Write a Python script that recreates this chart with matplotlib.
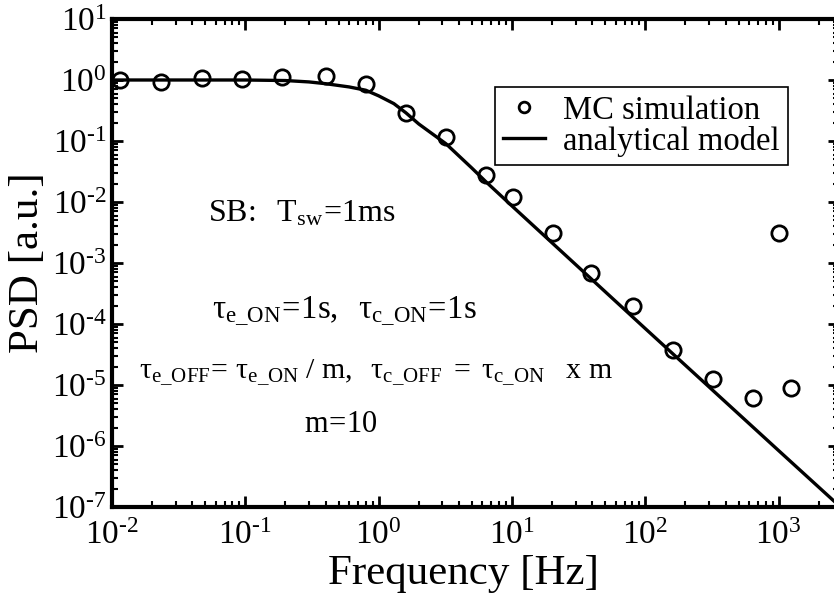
import matplotlib
matplotlib.use('Agg')
import matplotlib.pyplot as plt
import numpy as np
from matplotlib.ticker import LogLocator, NullFormatter, FuncFormatter

# MC simulation points
freq_mc = [0.0115, 0.0235, 0.047, 0.094, 0.19, 0.40, 0.81, 1.6, 3.2, 6.4,
           10.1, 20.2, 39.3, 81, 161, 323, 638, 1000, 1234]
psd_mc = [1.0, 0.92, 1.07, 1.03, 1.13, 1.17, 0.86, 0.284, 0.117, 0.0277,
          0.0122, 3.07e-3, 6.8e-4, 2.0e-4, 3.75e-5, 1.24e-5, 6.2e-6, 3.07e-3, 9.0e-6]

# analytical model curve
freq_model = [0.01, 0.1, 0.2, 0.3, 0.4, 0.6, 0.8, 1.0, 1.3, 1.6, 2.0, 3.2,
              5.0, 6.3, 10, 100, 1000, 3000]
psd_model = [1.0, 1.0, 0.98, 0.93, 0.87, 0.77, 0.68, 0.55, 0.41, 0.29, 0.19, 0.09,
             0.036, 0.022, 8.6e-3, 8.4e-5, 8.4e-7, 9.4e-8]

plt.rcParams['font.family'] = ['Liberation Serif', 'DejaVu Serif']
plt.rcParams['mathtext.fontset'] = 'custom'
plt.rcParams['mathtext.rm'] = 'Liberation Serif'
plt.rcParams['mathtext.it'] = 'Liberation Serif:italic'
plt.rcParams['mathtext.bf'] = 'Liberation Serif:bold'

fig = plt.figure(figsize=(8.34, 5.95), dpi=100)
ax = fig.add_axes([112 / 834, 1 - 507 / 595, 727 / 834, 488 / 595])

ax.plot(freq_mc, psd_mc, 'o', ms=11, mfc='none', mec='black', mew=2,
        label='MC simulation')
ax.plot(freq_model, psd_model, '-', color='black', lw=2.4,
        label='analytical model')

ax.set_xscale('log')
ax.set_yscale('log')
ax.set_xlim(1e-2, 2835)
ax.set_ylim(1e-7, 1e1)


def dec_label(v, pos):
    e = int(round(np.log10(v)))
    if e < 0:
        return r'$\mathdefault{10^{\text{-}%d}}$' % (-e)
    return r'$\mathdefault{10^{%d}}$' % e


ax.xaxis.set_major_locator(LogLocator(base=10, numticks=20))
ax.yaxis.set_major_locator(LogLocator(base=10, numticks=20))
ax.xaxis.set_minor_locator(LogLocator(base=10, subs=range(2, 10), numticks=100))
ax.yaxis.set_minor_locator(LogLocator(base=10, subs=range(2, 10), numticks=100))
ax.xaxis.set_major_formatter(FuncFormatter(dec_label))
ax.yaxis.set_major_formatter(FuncFormatter(dec_label))
ax.xaxis.set_minor_formatter(NullFormatter())
ax.yaxis.set_minor_formatter(NullFormatter())

for s in ax.spines.values():
    s.set_linewidth(3)
ax.tick_params(which='both', direction='in', top=True, right=True)
ax.tick_params(which='major', length=8, width=2, labelsize=24)
ax.tick_params(which='minor', length=4.5, width=1.5)
ax.tick_params(axis='x', which='major', pad=10)
ax.tick_params(axis='y', which='major', pad=4)

ax.set_xlabel('Frequency [Hz]', fontsize=31)
ax.set_ylabel('PSD [a.u.]', fontsize=31)
ax.xaxis.set_label_coords((463 - 112) / 727, -0.098)
ax.yaxis.set_label_coords(-0.089, 0.5)

leg = ax.legend(loc='upper right', bbox_to_anchor=((788 - 112) / 727, (507 - 87) / 488),
                borderaxespad=0, fontsize=23.5, frameon=True, fancybox=False,
                edgecolor='black', framealpha=1, markerscale=0.7,
                handlelength=1.3, handletextpad=0.55, labelspacing=0.0,
                borderpad=0.25)
leg.get_frame().set_linewidth(1.2)

tf = ax.transAxes
ax.text(0.132, 0.585, r'$\mathrm{SB\!:\ \ T_{sw}\!=\!1ms}$', transform=tf,
        fontsize=23, ha='left', va='baseline')
ax.text(0.137, 0.387, r'$\mathrm{τ_{e\_ON}\!=\!1s,\ \ τ_{c\_ON}\!=\!1s}$', transform=tf,
        fontsize=23.5, ha='left', va='baseline')
ax.text(0.0376, 0.262,
        r'$\mathrm{τ_{e\_OFF}\!=\,τ_{e\_ON}\ /\ m,\ \ τ_{c\_OFF}\ =\ τ_{c\_ON}\ \ \ x\ m}$',
        transform=tf, fontsize=21.5, ha='left', va='baseline')
ax.text(0.264, 0.153, r'$\mathrm{m\!=\!10}$', transform=tf,
        fontsize=22, ha='left', va='baseline')

fig.savefig('out.png', dpi=100)
